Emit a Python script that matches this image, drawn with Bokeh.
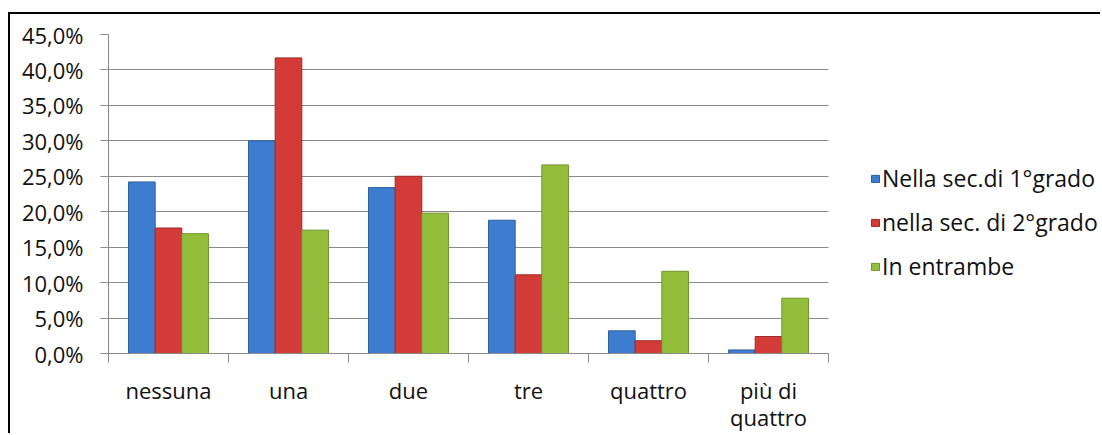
import textwrap
from bokeh.plotting import figure
from bokeh.models import Range1d, FixedTicker, Legend, LegendItem, ColumnDataSource
from bokeh.embed import file_html
from bokeh.resources import INLINE

# ---- data (percentages) ----
categories = ["nessuna", "una", "due", "tre", "quattro", "più di quattro"]
series_names = ["Nella sec.di 1°grado", "nella sec. di 2°grado", "In entrambe"]
primo_grado = [24.2, 30.0, 23.4, 18.8, 3.2, 0.5]
secondo_grado = [17.7, 41.7, 25.0, 11.1, 1.8, 2.4]
entrambe = [16.9, 17.4, 19.8, 26.6, 11.6, 7.8]
y_ticks = [0, 5, 10, 15, 20, 25, 30, 35, 40, 45]

series_values = [primo_grado, secondo_grado, entrambe]
fills = ["#3C7DD0", "#D23B37", "#93BE3C"]
edges = ["#2C5F9F", "#9C2A26", "#6E9429"]

BAR_W = 0.222
offsets = [-BAR_W, 0.0, BAR_W]
FONT = "Open Sans"
GRID = "#8A8A8A"

# layout: plot area of 720 px for the categories, frame continues to the
# right edge so the legend (which is clipped to the frame) can live there
CAT_PX = 720
FRAME_PX = 994
n = len(categories)

p = figure(width=1092, height=421,
           x_range=Range1d(0, n * FRAME_PX / CAT_PX), y_range=Range1d(0, 45),
           output_backend="svg", toolbar_location=None,
           min_border_left=98, min_border_right=0,
           min_border_top=20, min_border_bottom=82)
p.styles = {"border-top": "2px solid black", "border-left": "2px solid black"}
p.margin = (12, 0, 0, 8)
p.outline_line_color = None
p.background_fill_color = "white"
p.border_fill_color = "white"

centers = [i + 0.5 for i in range(n)]

renderers = []
for vals, off, fc, lc in zip(series_values, offsets, fills, edges):
    src = ColumnDataSource(dict(x=[c + off for c in centers], top=vals))
    r = p.vbar(x="x", top="top", bottom=0, width=BAR_W, source=src,
               fill_color=fc, line_color=lc, line_width=1)
    renderers.append(r)

# y axis
p.yaxis.ticker = FixedTicker(ticks=y_ticks)
p.yaxis.major_label_overrides = {t: f"{t:.1f}%".replace(".", ",") for t in y_ticks}
p.yaxis.major_tick_out = 8
p.yaxis.major_tick_in = 0
p.yaxis.minor_tick_line_color = None
p.yaxis.major_tick_line_color = GRID
p.yaxis.axis_line_color = GRID
p.yaxis.major_label_standoff = 17
p.yaxis.major_label_text_font = FONT
p.yaxis.major_label_text_font_size = "22px"
p.yaxis.major_label_text_color = "#111111"

# x axis: labels at category centres, tick marks at boundaries
p.xaxis.ticker = FixedTicker(ticks=centers, minor_ticks=list(range(n + 1)))
p.xaxis.bounds = (0, n)
p.xaxis.major_label_overrides = {c: "\n".join(textwrap.wrap(cat, 7))
                                 for c, cat in zip(centers, categories)}
p.xaxis.major_tick_out = 0
p.xaxis.major_tick_in = 0
p.xaxis.minor_tick_out = 9
p.xaxis.minor_tick_in = 0
p.xaxis.minor_tick_line_color = GRID
p.xaxis.axis_line_color = GRID
p.xaxis.major_label_standoff = 12
p.xaxis.major_label_text_font = FONT
p.xaxis.major_label_text_font_size = "22px"
p.xaxis.major_label_text_line_height = 0.9
p.xaxis.major_label_text_color = "#111111"

p.xgrid.visible = False
p.ygrid.ticker = FixedTicker(ticks=y_ticks)
p.ygrid.cross_bounds = (0, n)
p.ygrid.grid_line_color = GRID
p.ygrid.grid_line_width = 1

legend = Legend(items=[LegendItem(label=s, renderers=[r]) for s, r in zip(series_names, renderers)],
                location=(762, 71))
legend.border_line_color = None
legend.background_fill_alpha = 0
legend.padding = 0
legend.margin = 0
legend.spacing = 12
legend.glyph_width = 10
legend.glyph_height = 9
legend.label_standoff = 2
legend.label_height = 22
legend.label_text_font = FONT
legend.label_text_font_size = "23px"
legend.label_text_color = "#111111"
p.add_layout(legend, "center")

open("out.html", "w").write(file_html(p, INLINE))
